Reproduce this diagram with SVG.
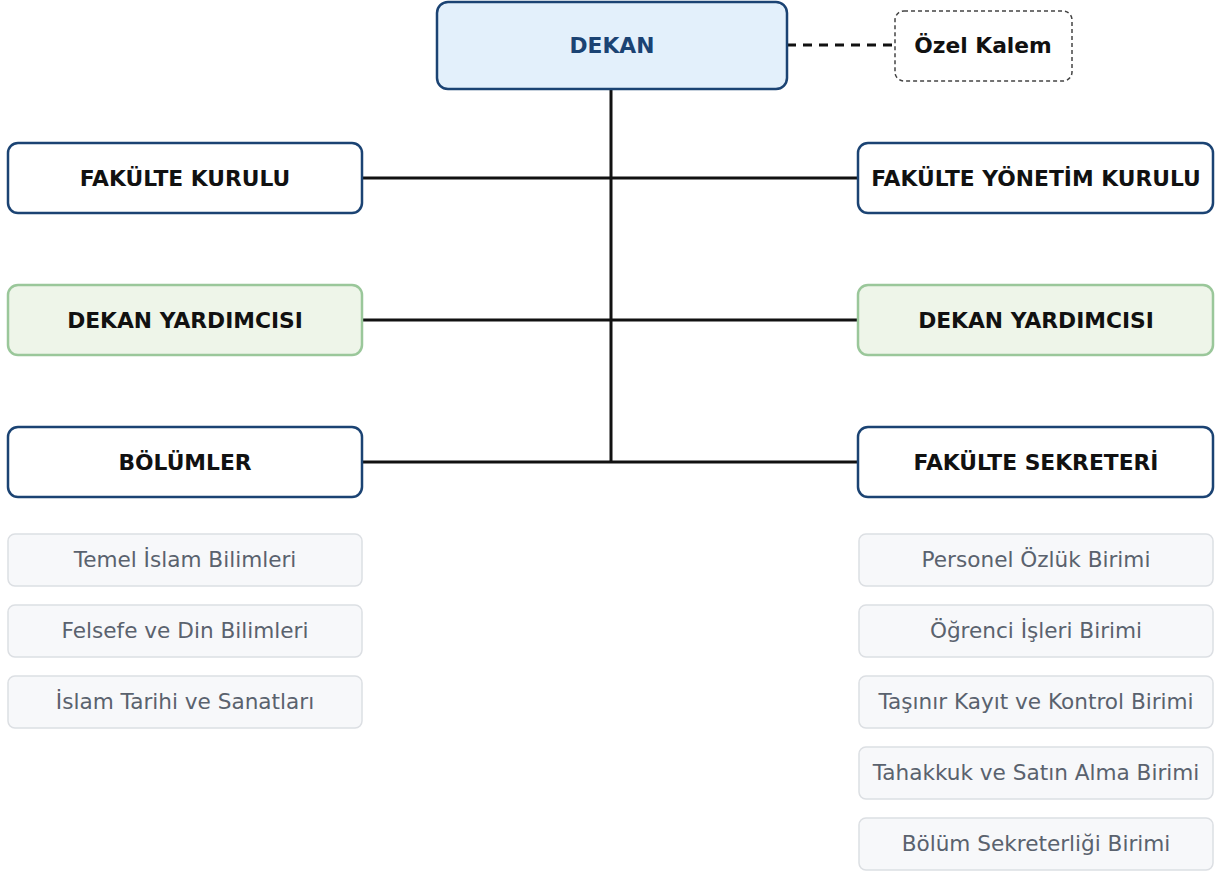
<svg xmlns="http://www.w3.org/2000/svg" width="1215" height="873" viewBox="0 0 1215 873">
<style>
text{font-family:"DejaVu Sans",Verdana,sans-serif;text-anchor:middle;font-size:21.6px}
.t{font-weight:bold;fill:#111;font-size:21.8px}
.main{fill:#fff;stroke:#1b4373;stroke-width:2.5}
.top{fill:#e3f0fb;stroke:#1b4373;stroke-width:2.5}
.vice{fill:#eef5e9;stroke:#9ac79a;stroke-width:2.5}
.sub{fill:#f7f8fa;stroke:#dcdfe3;stroke-width:1.5}
.st{fill:#5a626e}
.ln{stroke:#111;stroke-width:3;fill:none}
</style>
<rect width="1215" height="873" fill="#fff"/>
<g id="connectors">
<line class="ln" x1="611" y1="89" x2="611" y2="462"/>
<line class="ln" x1="362" y1="178" x2="858" y2="178"/>
<line class="ln" x1="362" y1="320" x2="858" y2="320"/>
<line class="ln" x1="362" y1="462" x2="858" y2="462"/>
<line class="ln" x1="787" y1="45" x2="894" y2="45" stroke-dasharray="9 7"/>
</g>
<g id="dekan"><rect class="top" x="437" y="2" width="350" height="87" rx="11"/><text class="t" x="612" y="53" fill="#1b4373" style="fill:#1b4373">DEKAN</text></g>
<g id="ozel-kalem"><rect x="895" y="11" width="177" height="70" rx="9" fill="#fff" stroke="#444" stroke-width="1.5" stroke-dasharray="4 3"/><text class="t" x="983" y="53">Özel Kalem</text></g>
<g id="fakulte-kurulu"><rect class="main" x="8" y="143" width="354" height="70" rx="10"/><text class="t" x="185" y="186">FAKÜLTE KURULU</text></g>
<g id="fakulte-yonetim-kurulu"><rect class="main" x="858" y="143" width="355" height="70" rx="10"/><text class="t" x="1036" y="186">FAKÜLTE YÖNETİM KURULU</text></g>
<g id="dekan-yardimcisi-1"><rect class="vice" x="8" y="285" width="354" height="70" rx="10"/><text class="t" x="185" y="328">DEKAN YARDIMCISI</text></g>
<g id="dekan-yardimcisi-2"><rect class="vice" x="858" y="285" width="355" height="70" rx="10"/><text class="t" x="1036" y="328">DEKAN YARDIMCISI</text></g>
<g id="bolumler"><rect class="main" x="8" y="427" width="354" height="70" rx="10"/><text class="t" x="185" y="470">BÖLÜMLER</text></g>
<g id="fakulte-sekreteri"><rect class="main" x="858" y="427" width="355" height="70" rx="10"/><text class="t" x="1036" y="470">FAKÜLTE SEKRETERİ</text></g>
<g id="b1"><rect class="sub" x="8" y="534" width="354" height="52" rx="7"/><text class="st" x="185" y="567">Temel İslam Bilimleri</text></g>
<g id="b2"><rect class="sub" x="8" y="605" width="354" height="52" rx="7"/><text class="st" x="185" y="638">Felsefe ve Din Bilimleri</text></g>
<g id="b3"><rect class="sub" x="8" y="676" width="354" height="52" rx="7"/><text class="st" x="185" y="709">İslam Tarihi ve Sanatları</text></g>
<g id="s1"><rect class="sub" x="859" y="534" width="354" height="52" rx="7"/><text class="st" x="1036" y="567">Personel Özlük Birimi</text></g>
<g id="s2"><rect class="sub" x="859" y="605" width="354" height="52" rx="7"/><text class="st" x="1036" y="638">Öğrenci İşleri Birimi</text></g>
<g id="s3"><rect class="sub" x="859" y="676" width="354" height="52" rx="7"/><text class="st" x="1036" y="709">Taşınır Kayıt ve Kontrol Birimi</text></g>
<g id="s4"><rect class="sub" x="859" y="747" width="354" height="52" rx="7"/><text class="st" x="1036" y="780">Tahakkuk ve Satın Alma Birimi</text></g>
<g id="s5"><rect class="sub" x="859" y="818" width="354" height="52" rx="7"/><text class="st" x="1036" y="851">Bölüm Sekreterliği Birimi</text></g>
</svg>
